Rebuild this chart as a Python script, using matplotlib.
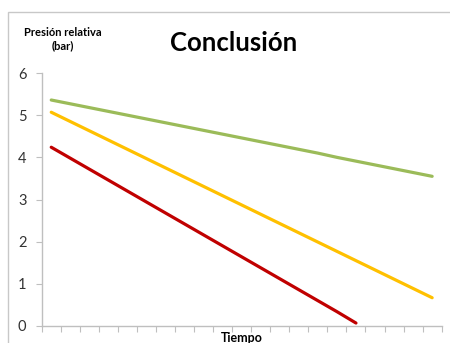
import matplotlib
matplotlib.use('Agg')
import matplotlib.pyplot as plt
from matplotlib.patches import Rectangle

# pressure values (bar), one point per time step
verde = [5.36, 5.27, 5.18, 5.09, 5.00, 4.91, 4.82, 4.73, 4.64, 4.55, 4.46,
         4.37, 4.28, 4.19, 4.10, 4.00, 3.91, 3.82, 3.73, 3.64, 3.55]
amarillo = [5.07, 4.85, 4.63, 4.41, 4.19, 3.97, 3.75, 3.53, 3.31, 3.09, 2.87,
            2.65, 2.43, 2.21, 1.99, 1.77, 1.55, 1.33, 1.11, 0.89, 0.67]
rojo = [4.24, 3.98, 3.72, 3.46, 3.20, 2.94, 2.68, 2.42, 2.16, 1.90, 1.64,
        1.38, 1.12, 0.86, 0.60, 0.34, 0.07]
yticks = [0, 1, 2, 3, 4, 5, 6]

plt.rcParams['font.family'] = ['Lato', 'DejaVu Sans']

fig = plt.figure(figsize=(4.5, 3.43), dpi=100)
ax = fig.add_axes([0.0927, 0.0496, 0.8888, 0.7375])

# chart area border (only top/left visible in the crop)
fig.patches.append(Rectangle((8 / 450, -0.1), 1.2, 1 - 12 / 343 + 0.1,
                             transform=fig.transFigure, fill=False,
                             edgecolor='#c8c8c8', linewidth=1))

ax.plot(range(len(verde)), verde, color='#9BBB59', linewidth=2.3, solid_capstyle='round')
ax.plot(range(len(amarillo)), amarillo, color='#FFC000', linewidth=2.3, solid_capstyle='round')
ax.plot(range(len(rojo)), rojo, color='#C00000', linewidth=2.3, solid_capstyle='round')

ax.set_xlim(-0.5, len(verde) - 0.5)
ax.set_ylim(0, 6)
ax.set_yticks(yticks)
ax.set_xticks([i - 0.5 for i in range(len(verde) + 1)])
ax.set_xticklabels([])

for s in ['top', 'right']:
    ax.spines[s].set_visible(False)
for s in ['left', 'bottom']:
    ax.spines[s].set_color('#bfbfbf')
    ax.spines[s].set_linewidth(1)

ax.tick_params(axis='y', direction='out', length=4, color='#bfbfbf',
               labelsize=10.5, labelcolor='#333333', pad=7)
ax.tick_params(axis='x', direction='out', length=4, color='#bfbfbf')

fig.text(0.52, 0.875, 'Conclusión', fontsize=18.5, fontweight='bold',
         ha='center', va='center', color='black')
fig.text(0.14, 0.885, 'Presión relativa\n(bar)', fontsize=8, fontweight='bold',
         ha='center', va='center', linespacing=1.25)
fig.text(0.537, -0.003, 'Tiempo', fontsize=9, fontweight='bold',
         ha='center', va='bottom')

fig.savefig('out.png', dpi=100)
